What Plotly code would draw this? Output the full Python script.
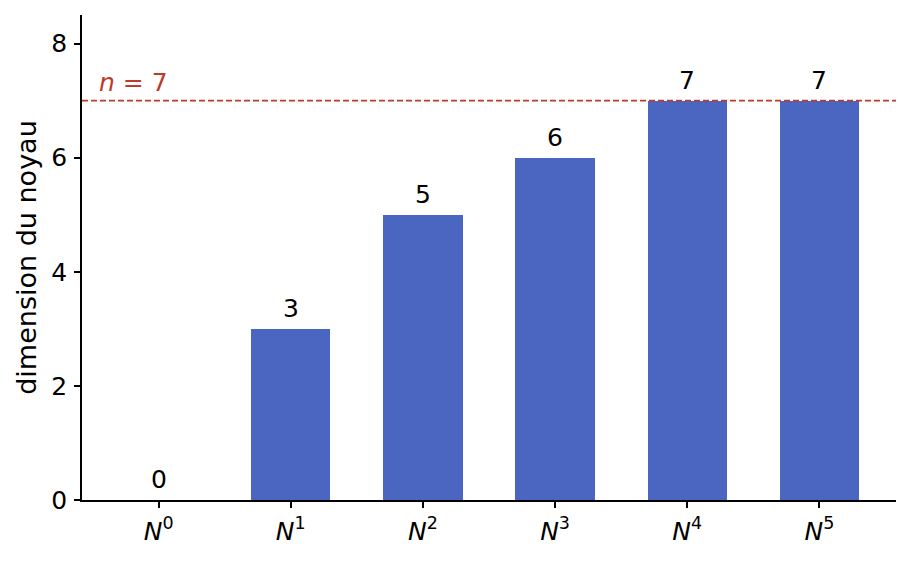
import plotly.graph_objects as go

POWERS = [0, 1, 2, 3, 4, 5]
TICK_LABELS = [f"<i>N</i><sup>{k}</sup>" for k in POWERS]
KERNEL_DIMS = [0, 3, 5, 6, 7, 7]
N_DIM = 7

BAR_COLOR = "#4a66c0"
LINE_COLOR = "#c0392b"
FONT = "DejaVu Sans"
BIG = 25     # ticks and value labels
BASE = 22.5  # axis title (inherits layout font)

fig = go.Figure()

fig.add_trace(go.Bar(
    x=POWERS,
    y=KERNEL_DIMS,
    width=0.6,
    marker=dict(color=BAR_COLOR, line=dict(width=0)),
    showlegend=False,
    hoverinfo="x+y",
))

# value labels above each bar
for k, v in zip(POWERS, KERNEL_DIMS):
    fig.add_annotation(
        x=k, y=v, xref="x", yref="y", text=str(v),
        showarrow=False, xanchor="center", yanchor="bottom", yshift=4,
        font=dict(family=FONT, size=BIG, color="black"),
    )

# horizontal reference line at n
fig.add_hline(y=N_DIM, line=dict(color=LINE_COLOR, width=1.8, dash="6px,3px"))
fig.add_annotation(
    x=-0.47, y=N_DIM, xref="x", yref="y",
    text=f"<i>n</i> = {N_DIM}",
    showarrow=False, xanchor="left", yanchor="bottom", yshift=2,
    font=dict(family=FONT, size=BIG, color=LINE_COLOR),
)

fig.update_layout(
    width=911, height=562,
    margin=dict(l=74, r=23, t=7, b=70),
    plot_bgcolor="white", paper_bgcolor="white",
    font=dict(family=FONT, size=BASE, color="black"),
    bargap=0,
)

fig.update_xaxes(
    range=[-0.58, 5.58],
    tickvals=POWERS, ticktext=TICK_LABELS,
    tickfont=dict(family=FONT, size=BIG),
    showline=True, linecolor="black", linewidth=1.5,
    ticks="outside", ticklen=6, tickwidth=1.5, tickcolor="black",
    ticklabelstandoff=2,
    showgrid=False, zeroline=False,
)
fig.update_yaxes(
    range=[0, 8.5],
    tickvals=[0, 2, 4, 6, 8],
    tickfont=dict(family=FONT, size=BIG),
    title=dict(text="dimension du noyau", standoff=7),
    showline=True, linecolor="black", linewidth=1.5,
    ticks="outside", ticklen=6, tickwidth=1.5, tickcolor="black",
    ticklabelstandoff=2,
    showgrid=False, zeroline=False,
)

fig.write_html("out.html")
